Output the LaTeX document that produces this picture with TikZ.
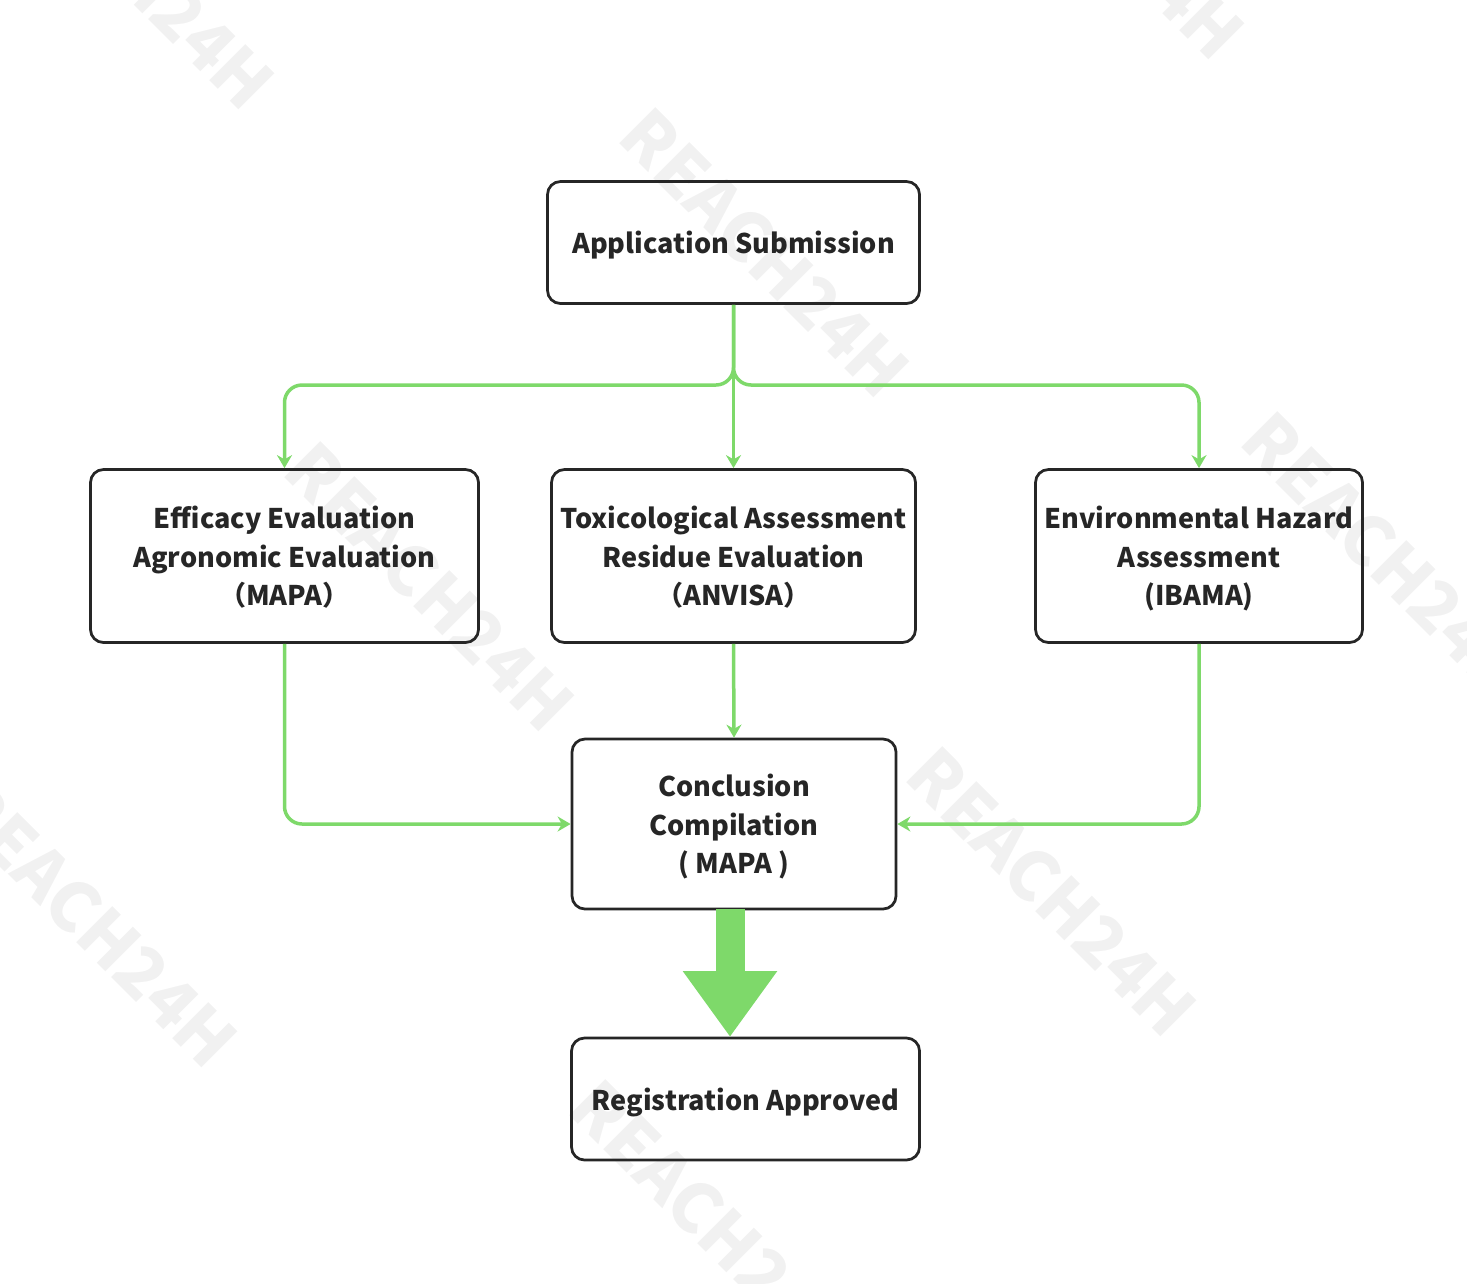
\documentclass[tikz,border=0pt]{standalone}
\usepackage{fontspec}
\setmainfont{Noto Sans CJK SC}
\usepackage{xcolor}
\usetikzlibrary{positioning,arrows.meta}
\definecolor{flowgreen}{HTML}{7ED96A}
\definecolor{markgray}{HTML}{F1F1F1}
\tikzstyle{box} = [rectangle, rounded corners=2.6mm, line width=0.55mm, draw=black!85, align=center, font=\fontsize{15.4}{21.9}\selectfont\bfseries, text=black!85, inner sep=0pt, text depth=0pt]
\tikzstyle{arrow} = [line width=0.7mm, draw=flowgreen, rounded corners=3.5mm, -{Stealth[length=2.6mm,width=3mm]}]
\tikzstyle{watermark} = [text=markgray, rotate=-45, font=\fontsize{39}{39}\selectfont\bfseries, inner sep=0pt]

\begin{document}
\begin{tikzpicture}[x=0.2mm,y=-0.2mm]
	\useasboundingbox (0,0) rectangle (1467,1283);

	% watermarks
	\node (markA) [watermark] at (130,-35) {REACH24H};
	\node (markB) [watermark] at (765,253) {REACH24H};
	\node (markC) [watermark] at (1100,-85) {REACH24H};
	\node (markD) [watermark] at (430,587) {REACH24H};
	\node (markE) [watermark] at (1387,557) {REACH24H};
	\node (markF) [watermark] at (1052,892) {REACH24H};
	\node (markG) [watermark] at (93,923) {REACH24H};
	\node (markH) [watermark] at (681,1191) {REACH2};

	% boxes
	\node (submit) [box, minimum width=74.4mm, minimum height=24.4mm] at (733.5,242.5) {Application Submission};
	\node (mapa) [box, minimum width=77.6mm, minimum height=34.6mm] at (284.5,556) {Efficacy Evaluation\\Agronomic Evaluation\\（MAPA）};
	\node (anvisa) [box, minimum width=72.8mm, minimum height=34.6mm] at (733.5,556) {Toxicological Assessment\\Residue Evaluation\\（ANVISA）};
	\node (ibama) [box, minimum width=65.4mm, minimum height=34.6mm] at (1199,556) {Environmental Hazard\\Assessment\\(IBAMA)};
	\node (compile) [box, minimum width=64.8mm, minimum height=34mm] at (734,824) {Conclusion\\Compilation\\( MAPA )};
	\node (approved) [box, minimum width=69.6mm, minimum height=24.4mm] at (745.5,1099) {Registration Approved};

	% connectors
	\coordinate (split) at (733.5,385);
	\draw [arrow] (submit.south) -- (anvisa.north);
	\draw [arrow] (submit.south) -- (split) -| (mapa.north);
	\draw [arrow] (submit.south) -- (split) -| (ibama.north);
	\draw [arrow] (mapa.south) |- (compile.west);
	\draw [arrow] (ibama.south) |- (compile.east);
	\draw [arrow] (anvisa.south) -- (compile.north);

	% big arrow
	\coordinate (bigtop) at (730,909);
	\coordinate (bigtip) at (730,1037);
	\draw [line width=5.8mm, draw=flowgreen, -{Triangle[length=13.2mm,width=18mm]}] (bigtop) -- (bigtip);
\end{tikzpicture}
\end{document}
